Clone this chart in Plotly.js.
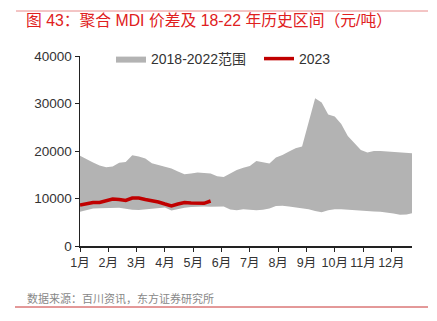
<!DOCTYPE html>
<html>
<head>
<meta charset="utf-8">
<script src="https://cdn.plot.ly/plotly-3.0.1.min.js"></script>
<style>html,body{margin:0;padding:0;background:#fff;}#chart{width:437px;height:321px;}</style>
</head>
<body>
<div id="chart"></div>
<script>
// Week index 0..51 (weekly data), x axis in month units
const weeks = [0,1,2,3,4,5,6,7,8,9,10,11,12,13,14,15,16,17,18,19,20,21,22,23,24,25,26,27,28,29,30,31,32,33,34,35,36,37,38,39,40,41,42,43,44,45,46,47,48,49,50,51];
const monthLabels = ["1月","2月","3月","4月","5月","6月","7月","8月","9月","10月","11月","12月"];
const monthTicks = [0,1,2,3,4,5,6,7,8,9,10,11];

// 2018-2022 range upper bound (元/吨)
const rangeHigh = [19010,18210,17580,16950,16570,16730,17530,17680,19090,18840,18420,17410,17050,16780,16310,15680,15090,15260,15470,15370,15260,14670,14520,15260,16000,16480,16840,17890,17580,17370,18630,19160,19890,20570,20940,26100,31090,30210,27680,27260,25680,23160,21680,20210,19680,20000,20000,19890,19890,19680,19580,19510];
// 2018-2022 range lower bound (元/吨)
const rangeLow = [7220,7580,7890,7940,7940,7940,8040,7830,7620,7580,7730,7890,8060,8100,7470,7790,8060,8210,8310,8310,8270,8250,8310,7680,7510,7730,7680,7510,7620,7890,8420,8460,8310,8100,7960,7750,7370,7090,7510,7750,7730,7620,7510,7370,7300,7260,7200,7090,6840,6570,6630,6950];
// 2023 spread (元/吨)
const y2023 = [8630,8950,9160,9160,9470,9890,9790,9580,10100,10100,9790,9540,9260,8840,8460,8840,9160,9050,8950,8990,9470];

const xMonths = weeks.map(w => w * 12 / 52);
const x2023 = xMonths.slice(0, y2023.length);

const font = '"Liberation Sans", "Noto Sans CJK SC", sans-serif';

const traces = [
  {x: xMonths, y: rangeLow, type: 'scatter', mode: 'lines', line: {width: 0, color: '#b3b3b3'}, showlegend: false, hoverinfo: 'skip'},
  {x: xMonths, y: rangeHigh, type: 'scatter', mode: 'lines', fill: 'tonexty', fillcolor: '#b3b3b3', line: {width: 0, color: '#b3b3b3'}, name: '2018-2022范围'},
  {x: x2023, y: y2023, type: 'scatter', mode: 'lines', line: {color: '#c00000', width: 3.5}, name: '2023'}
];

const layout = {
  width: 437, height: 321,
  margin: {l: 80, r: 25, t: 56, b: 75},
  paper_bgcolor: '#fff', plot_bgcolor: '#fff',
  font: {family: font, size: 13, color: '#333'},
  title: {text: '图 43：聚合 MDI 价差及 18-22 年历史区间（元/吨）', font: {family: font, size: 15.8, color: '#e02020'}, xref: 'container', yref: 'container', x: 26/437, xanchor: 'left', y: 1 - 20/321, yanchor: 'middle'},
  xaxis: {range: [0, 11.73], tickvals: monthTicks, ticktext: monthLabels, tickangle: 0, showgrid: false, zeroline: false, showline: true, linecolor: '#222', linewidth: 1.5, ticks: 'outside', ticklen: 4, tickcolor: '#222', tickfont: {size: 12.5, color: '#333'}},
  yaxis: {range: [0, 40000], tickvals: [0,10000,20000,30000,40000], ticktext: ['0','10000','20000','30000','40000'], showgrid: false, zeroline: false, showline: true, linecolor: '#222', linewidth: 1.5, ticks: 'outside', ticklen: 4, tickcolor: '#222', tickfont: {size: 13.5, color: '#333'}},
  legend: {orientation: 'h', x: (111-80)/332, xanchor: 'left', y: (246-59)/190, yanchor: 'middle', font: {size: 14, color: '#333'}, itemwidth: 30, entrywidth: 103, entrywidthmode: 'pixels', traceorder: 'normal', bgcolor: 'rgba(0,0,0,0)'},
  shapes: [
    {type: 'line', xref: 'paper', yref: 'paper', x0: (16-80)/332, x1: (428-80)/332, y0: (246-11)/190, y1: (246-11)/190, line: {color: '#e88a8a', width: 1}},
    {type: 'line', xref: 'paper', yref: 'paper', x0: (15-80)/332, x1: (428-80)/332, y0: (246-307)/190, y1: (246-307)/190, line: {color: '#c83232', width: 1}}
  ],
  annotations: [
    {text: '数据来源：百川资讯，东方证券研究所', xref: 'paper', yref: 'paper', x: (25-80)/332, y: (246-298)/190, xanchor: 'left', yanchor: 'middle', showarrow: false, font: {size: 11, color: '#888'}}
  ]
};

Plotly.newPlot('chart', traces, layout, {displayModeBar: false, staticPlot: true});
</script>
</body>
</html>
